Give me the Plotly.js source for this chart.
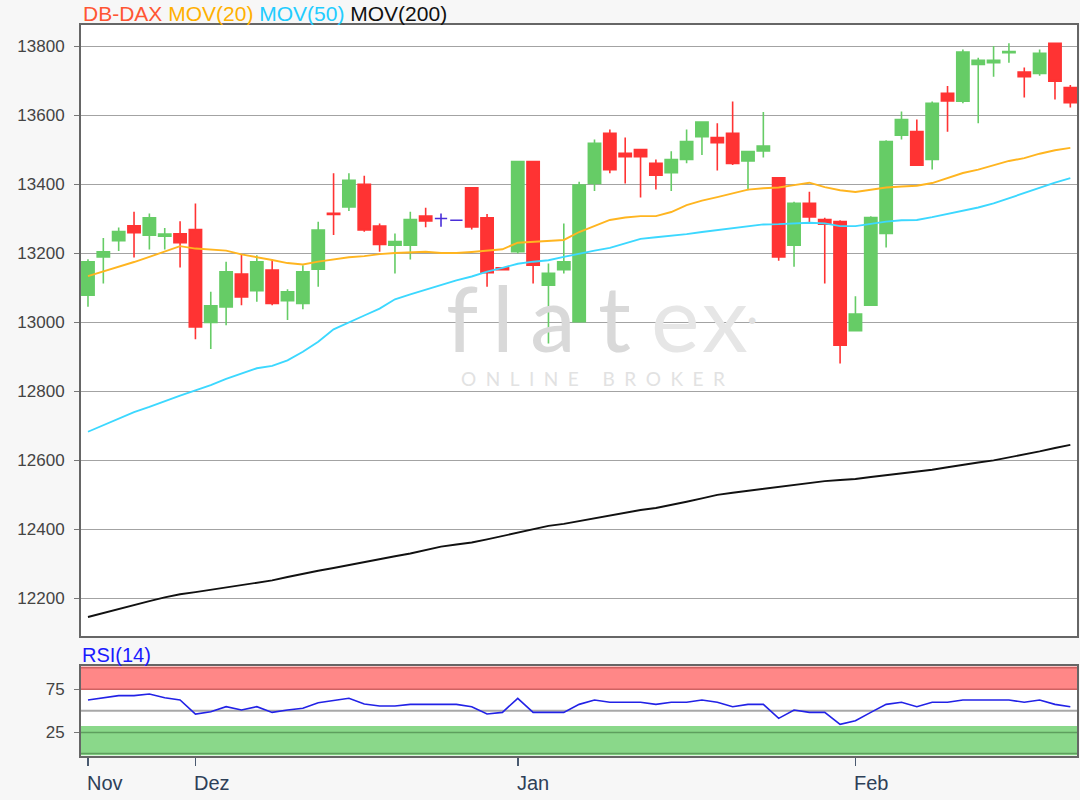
<!DOCTYPE html>
<html>
<head>
<meta charset="utf-8">
<script src="https://cdn.plot.ly/plotly-3.0.1.min.js"></script>
<style>
  html, body { margin: 0; padding: 0; background: #f7f7f7; }
  #chart { width: 1080px; height: 800px; }
</style>
</head>
<body>
<div id="chart"></div>
<script>
// ---------------- DATA ----------------
const dates = [
  '2019-11-21','2019-11-22','2019-11-25','2019-11-26','2019-11-27','2019-11-28','2019-11-29',
  '2019-12-02','2019-12-03','2019-12-04','2019-12-05','2019-12-06',
  '2019-12-09','2019-12-10','2019-12-11','2019-12-12','2019-12-13',
  '2019-12-16','2019-12-17','2019-12-18','2019-12-19','2019-12-20',
  '2019-12-23','2019-12-24','2019-12-26','2019-12-27','2019-12-30','2019-12-31',
  '2020-01-02','2020-01-03','2020-01-06','2020-01-07','2020-01-08','2020-01-09','2020-01-10',
  '2020-01-13','2020-01-14','2020-01-15','2020-01-16','2020-01-17',
  '2020-01-20','2020-01-21','2020-01-22','2020-01-23','2020-01-24',
  '2020-01-27','2020-01-28','2020-01-29','2020-01-30','2020-01-31',
  '2020-02-03','2020-02-04','2020-02-05','2020-02-06','2020-02-07',
  '2020-02-10','2020-02-11','2020-02-12','2020-02-13','2020-02-14',
  '2020-02-17','2020-02-18','2020-02-19','2020-02-20','2020-02-21'
];
const openP = [13079,13190,13237,13280,13253,13250,13257,13269,13000,13045,13140,13092,13152,13063,13055,13154,13316,13335,13400,13279,13224,13224,13308,13301,13296,13390,13303,13158,13205,13466,13108,13153,13002,13403,13548,13490,13501,13461,13434,13472,13538,13536,13548,13468,13497,13419,13224,13345,13298,13292,12976,13050,13258,13543,13553,13472,13664,13641,13748,13753,13782,13726,13722,13809,13681];
const highP = [13183,13245,13275,13321,13316,13274,13293,13345,13089,13176,13197,13195,13182,13096,13166,13292,13432,13432,13425,13287,13258,13321,13332,13316,13296,13390,13314,13160,13466,13466,13171,13287,13408,13530,13559,13536,13501,13472,13496,13559,13581,13577,13640,13495,13610,13419,13350,13379,13303,13296,13076,13308,13528,13611,13588,13640,13685,13791,13767,13801,13809,13739,13791,13809,13688];
const lowP  = [13045,13113,13207,13188,13211,13211,13159,12951,12923,12992,13050,13060,13050,13007,13038,13103,13253,13323,13263,13205,13142,13182,13276,13277,13296,13269,13103,13151,13200,13113,12939,13142,13002,13381,13432,13403,13362,13385,13381,13461,13485,13440,13456,13383,13478,13179,13161,13287,13113,12881,12976,13050,13217,13530,13456,13443,13553,13635,13577,13712,13753,13652,13715,13646,13623];
const closeP= [13176,13205,13263,13260,13303,13256,13231,12987,13048,13147,13074,13176,13055,13089,13147,13268,13313,13412,13268,13226,13234,13298,13294,13301,13296,13277,13144,13153,13466,13166,13142,13176,13398,13519,13443,13480,13480,13427,13472,13524,13581,13521,13461,13495,13511,13190,13345,13306,13285,12934,13024,13304,13524,13588,13456,13635,13642,13784,13760,13760,13785,13712,13780,13699,13637];
const mov20 = [13134,13147,13160,13175,13190,13205,13221,13214,13211,13208,13197,13190,13181,13172,13168,13176,13183,13189,13192,13198,13201,13204,13205,13201,13201,13204,13207,13212,13231,13234,13236,13239,13262,13279,13297,13304,13308,13308,13320,13340,13353,13363,13375,13385,13389,13391,13398,13405,13392,13383,13378,13385,13391,13394,13396,13404,13418,13433,13443,13456,13468,13476,13489,13499,13506];
const mov50 = [12683,12702,12722,12740,12755,12772,12788,12803,12818,12836,12852,12867,12874,12890,12915,12944,12980,12999,13020,13040,13067,13081,13095,13108,13122,13133,13147,13158,13170,13176,13180,13190,13200,13208,13216,13230,13242,13247,13251,13256,13262,13268,13274,13279,13284,13285,13287,13289,13287,13279,13279,13286,13292,13296,13297,13305,13314,13325,13333,13345,13360,13375,13392,13405,13418];
const mov200 = [12146,12158,12168,12180,12192,12203,12212,12218,12225,12232,12238,12244,12252,12262,12272,12280,12288,12297,12306,12314,12322,12330,12340,12350,12356,12362,12371,12381,12392,12401,12410,12416,12424,12433,12441,12450,12456,12462,12470,12480,12490,12500,12506,12512,12518,12524,12530,12535,12540,12543,12546,12552,12557,12562,12567,12573,12580,12588,12594,12600,12608,12617,12626,12636,12645];
const rsi14 = [62.6,65.2,67.6,67.6,69.5,65.2,62.6,46.3,49,54.8,51,54.8,48.2,51,52.9,59.4,61.7,64.5,57.9,55.6,55.6,57.5,57.5,57.5,57.5,54.8,46.3,48.2,64.5,48.2,48.2,48.2,57.5,62.6,59.9,59.9,59.9,57.5,59.9,59.9,62.6,59.9,54.8,57.5,57.5,41.3,51,48.2,48.2,34.3,38.5,48.2,57.5,59.9,54.8,59.9,59.9,62.6,62.6,62.6,62.6,59.9,62.6,57.5,54.8];
const monthTickDates = ['2019-11-21','2019-12-02','2020-01-02','2020-02-03'];
const monthTickLabels = ['Nov','Dez','Jan','Feb'];
const priceTicks = [12200,12400,12600,12800,13000,13200,13400,13600,13800];
const rsiTicks = [25,75];

// ---------------- STYLE ----------------
const FONT = 'Arial, "Liberation Sans", sans-serif';
const GREEN = '#66cc66', RED = '#ff3333', FLAT = '#4a2fd8';
const mainDom = [0.1637, 1];
const rsiDom = [0, 0.1255];

const isFlat = openP.map((o, i) => o === closeP[i]);
const pick = (arr, flat) => arr.map((v, i) => (isFlat[i] === flat ? v : null));

const candles = {
  type: 'candlestick', x: dates,
  open: pick(openP, false), high: pick(highP, false), low: pick(lowP, false), close: pick(closeP, false),
  increasing: { line: { color: GREEN, width: 1.6 }, fillcolor: GREEN },
  decreasing: { line: { color: RED, width: 1.6 }, fillcolor: RED },
  whiskerwidth: 0, xaxis: 'x', yaxis: 'y', hoverinfo: 'skip', showlegend: false
};
const flatCandles = {
  type: 'candlestick', x: dates,
  open: pick(openP, true), high: pick(highP, true), low: pick(lowP, true), close: pick(closeP, true),
  increasing: { line: { color: FLAT, width: 1.6 }, fillcolor: FLAT },
  decreasing: { line: { color: FLAT, width: 1.6 }, fillcolor: FLAT },
  whiskerwidth: 0, xaxis: 'x', yaxis: 'y', hoverinfo: 'skip', showlegend: false
};
const lineTrace = (y, color, w, ax) => ({
  type: 'scatter', mode: 'lines', x: dates, y: y, xaxis: 'x', yaxis: ax,
  line: { color: color, width: w }, hoverinfo: 'skip', showlegend: false
});

const traces = [
  candles, flatCandles,
  lineTrace(mov200, '#111111', 1.9, 'y'),
  lineTrace(mov50, '#3cd8ff', 1.9, 'y'),
  lineTrace(mov20, '#ffb520', 1.9, 'y'),
  lineTrace(rsi14, '#2222e6', 1.6, 'y2')
];

// watermark letters (pixel positions)
const px2x = px => (px - 80) / 998;
const py2y = py => (757 - py) / 733;
const wmLetters = [
  { t: 'f', x: 462, c: '#d9d9d9' }, { t: 'l', x: 503, c: '#d9d9d9' },
  { t: 'a', x: 553, c: '#d9d9d9' }, { t: 't', x: 614, c: '#d9d9d9' },
  { t: 'e', x: 675, c: '#e6e6e6' }, { t: 'x', x: 725, c: '#e6e6e6' }
];

const annotations = [];
wmLetters.forEach(l => annotations.push({
  xref: 'paper', yref: 'paper', x: px2x(l.x), y: py2y(316), text: l.t, showarrow: false,
  xanchor: 'center', yanchor: 'middle',
  font: { family: 'Lato, "Open Sans", sans-serif', size: 92, color: l.c, weight: 400 }
}));
annotations.push({
  xref: 'paper', yref: 'paper', x: px2x(752), y: py2y(320), text: '•', showarrow: false,
  xanchor: 'center', yanchor: 'middle', font: { family: FONT, size: 24, color: '#e0e0e0' }
});
annotations.push({
  xref: 'paper', yref: 'paper', x: px2x(593), y: py2y(378),
  text: 'O\u2002N\u2002L\u2002I\u2002N\u2002E\u2003\u2002B\u2002R\u2002O\u2002K\u2002E\u2002R',
  showarrow: false, xanchor: 'center', yanchor: 'middle',
  font: { family: 'Lato, "Open Sans", sans-serif', size: 19, color: '#e2e2e2' }
});
// title
annotations.push({
  xref: 'paper', yref: 'paper', x: 0, y: 1, xanchor: 'left', yanchor: 'bottom', showarrow: false,
  xshift: 1, yshift: -3,
  text: '<span style="color:#ff5533">DB-DAX</span> <span style="color:#ffb000">MOV(20)</span> ' +
        '<span style="color:#22ccff">MOV(50)</span> <span style="color:#111111">MOV(200)</span>',
  font: { family: FONT, size: 21, color: '#111' }
});
// RSI label
annotations.push({
  xref: 'paper', yref: 'paper', x: 0, y: rsiDom[1], xanchor: 'left', yanchor: 'bottom', showarrow: false,
  xshift: 0, yshift: -3, text: 'RSI(14)', font: { family: FONT, size: 20, color: '#1a1aff' }
});
// month labels (left-aligned at tick)
monthTickDates.forEach((d, i) => annotations.push({
  xref: 'x', yref: 'paper', x: d, y: 0, xanchor: 'left', yanchor: 'top', showarrow: false,
  xshift: -3, yshift: -13, text: monthTickLabels[i], font: { family: FONT, size: 20, color: '#2e4058' }
}));

const shapes = [
  { type: 'rect', xref: 'paper', yref: 'y2', x0: 0, x1: 1, y0: 74, y1: 101.5, fillcolor: '#ff8787', line: { width: 0 }, layer: 'below' },
  { type: 'rect', xref: 'paper', yref: 'y2', x0: 0, x1: 1, y0: -1.5, y1: 32.5, fillcolor: '#8ad88a', line: { width: 0 }, layer: 'below' },
  { type: 'line', xref: 'paper', yref: 'y2', x0: 0, x1: 1, y0: 100, y1: 100, line: { color: '#cf6262', width: 1.5 } },
  { type: 'line', xref: 'paper', yref: 'y2', x0: 0, x1: 1, y0: 75, y1: 75, line: { color: '#cf6262', width: 1.5 } },
  { type: 'line', xref: 'paper', yref: 'y2', x0: 0, x1: 1, y0: 25, y1: 25, line: { color: '#5e9e5e', width: 1.5 } },
  { type: 'line', xref: 'paper', yref: 'y2', x0: 0, x1: 1, y0: 0.5, y1: 0.5, line: { color: '#5e9e5e', width: 1.5 } },
  { type: 'line', xref: 'paper', yref: 'y2', x0: 0, x1: 1, y0: 50, y1: 50, line: { color: '#a8a8a8', width: 2 }, layer: 'below' },
  { type: 'rect', xref: 'paper', yref: 'paper', x0: 0, x1: 1, y0: mainDom[0], y1: mainDom[1], line: { color: '#666666', width: 2 }, layer: 'above' },
  { type: 'rect', xref: 'paper', yref: 'paper', x0: 0, x1: 1, y0: rsiDom[0], y1: rsiDom[1], line: { color: '#666666', width: 2 }, layer: 'above' }
];

const layout = {
  width: 1080, height: 800,
  margin: { l: 80, r: 2, t: 24, b: 43 },
  paper_bgcolor: '#f7f7f7', plot_bgcolor: '#ffffff',
  showlegend: false, boxgap: 0.2, boxgroupgap: 0,
  font: { family: FONT, size: 17, color: '#444' },
  xaxis: {
    type: 'category', anchor: 'y2', range: [-0.52, 64.5],
    rangeslider: { visible: false },
    showgrid: false, zeroline: false, showline: false,
    tickmode: 'array', tickvals: monthTickDates, ticktext: monthTickDates.map(() => ''),
    ticks: 'outside', ticklen: 8, tickwidth: 1.5, tickcolor: '#4a5a70', showticklabels: false
  },
  yaxis: {
    domain: mainDom, range: [12088, 13865], fixedrange: true,
    tickmode: 'array', tickvals: priceTicks, ticktext: priceTicks.map(String),
    showgrid: true, gridcolor: '#a3a3a3', gridwidth: 1.5, zeroline: false,
    ticks: 'outside', ticklen: 5, tickcolor: '#777', ticklabelstandoff: 6,
    tickfont: { family: FONT, size: 17, color: '#444' }
  },
  yaxis2: {
    domain: rsiDom, range: [-3.5, 103.1], fixedrange: true,
    tickmode: 'array', tickvals: rsiTicks, ticktext: rsiTicks.map(String),
    showgrid: false, zeroline: false,
    ticks: 'outside', ticklen: 5, tickcolor: '#777', ticklabelstandoff: 6,
    tickfont: { family: FONT, size: 17, color: '#444' }
  },
  shapes: shapes,
  annotations: annotations
};

Plotly.newPlot('chart', traces, layout, { displayModeBar: false, staticPlot: true });
</script>
</body>
</html>
